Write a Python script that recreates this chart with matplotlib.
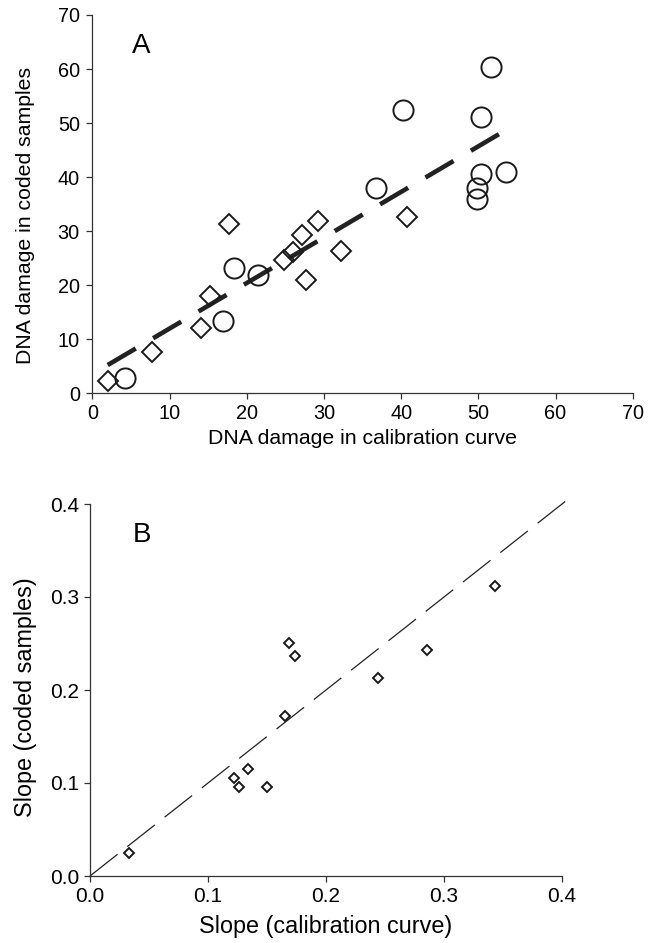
import numpy as np
import matplotlib
matplotlib.use('Agg')
import matplotlib.pyplot as plt
from matplotlib.ticker import FixedLocator, FormatStrFormatter

plt.rcParams['font.family'] = ['Liberation Sans', 'DejaVu Sans']

# ---------------- Panel A data ----------------
a_diamond_x = [2.0, 7.7, 14.1, 15.3, 17.7, 24.8, 26.0, 27.1, 27.7, 29.2, 32.2, 40.7]
a_diamond_y = [2.2, 7.6, 12.1, 18.0, 31.4, 24.7, 26.2, 29.3, 20.9, 31.8, 26.3, 32.7]
a_circle_x = [4.2, 16.9, 18.4, 21.4, 36.8, 40.3, 51.6, 50.3, 50.4, 49.8, 49.8, 53.6]
a_circle_y = [2.85, 13.4, 23.1, 21.9, 38.0, 52.4, 60.4, 51.2, 40.6, 38.0, 35.9, 41.0]
a_ticks = [0, 10, 20, 30, 40, 50, 60, 70]
a_xlabel = "DNA damage in calibration curve"
a_ylabel = "DNA damage in coded samples"

# ---------------- Panel B data ----------------
b_x = [0.033, 0.122, 0.126, 0.134, 0.150, 0.165, 0.1685, 0.1735, 0.244, 0.286, 0.343]
b_y = [0.025, 0.105, 0.096, 0.115, 0.096, 0.172, 0.251, 0.237, 0.213, 0.243, 0.312]
b_ticks = [0.0, 0.1, 0.2, 0.3, 0.4]
b_identity = [0.0, 0.407]
b_xlabel = "Slope (calibration curve)"
b_ylabel = "Slope (coded samples)"

W, H = 658, 943
fig = plt.figure(figsize=(W / 100, H / 100), dpi=100)
fig.patch.set_facecolor('white')

spine_col = '#333333'
ink = '#1a1a1a'


def px_axes(left, right, top, bottom):
    return fig.add_axes([left / W, 1 - bottom / H, (right - left) / W, (bottom - top) / H])


def style(ax, tick_fs, pad_x, pad_y):
    for s in ['top', 'right']:
        ax.spines[s].set_visible(False)
    for s in ['left', 'bottom']:
        ax.spines[s].set_color(spine_col)
        ax.spines[s].set_linewidth(0.9)
    ax.tick_params(axis='both', direction='out', length=4, width=0.9,
                   color=spine_col, labelsize=tick_fs, labelcolor='black')
    ax.tick_params(axis='x', pad=pad_x)
    ax.tick_params(axis='y', pad=pad_y)


# ---------------- Panel A ----------------
axA = px_axes(92.3, 632.7, 15, 393.3)
all_x = np.array(a_diamond_x + a_circle_x)
all_y = np.array(a_diamond_y + a_circle_y)
slope, intercept = np.polyfit(all_x, all_y, 1)
fx = np.array([all_x.min(), all_x.max()])
axA.plot(fx, slope * fx + intercept, color='#222222', lw=3.3,
         dashes=(7.1, 4.4), solid_capstyle='butt', dash_capstyle='butt', zorder=2)
axA.plot(a_diamond_x, a_diamond_y, linestyle='none', marker='D', ms=10.2,
         mfc='none', mec=ink, mew=1.4, zorder=3, clip_on=False)
axA.plot(a_circle_x, a_circle_y, linestyle='none', marker='o', ms=14.5,
         mfc='none', mec=ink, mew=1.4, zorder=3, clip_on=False)
axA.set_xlim(0, 70)
axA.set_ylim(0, 70)
axA.xaxis.set_major_locator(FixedLocator(a_ticks))
axA.yaxis.set_major_locator(FixedLocator(a_ticks))
style(axA, 14.3, 4, 5)
axA.set_xlabel(a_xlabel, fontsize=15.3)
axA.set_ylabel(a_ylabel, fontsize=15.3, va='center')
axA.xaxis.set_label_coords(0.5, -0.095)
axA.yaxis.set_label_coords(-0.1245, 0.471)
axA.text(0.0735, 0.918, 'A', transform=axA.transAxes, fontsize=20,
         ha='left', va='center')

# ---------------- Panel B ----------------
axB = px_axes(90, 562, 504, 876)
axB.plot(b_identity, b_identity, color='#222222', lw=0.9,
         dashes=(28, 10), dash_capstyle='butt', zorder=2, clip_on=False)
axB.plot(b_x, b_y, linestyle='none', marker='D', ms=5.1,
         mfc='white', mec=ink, mew=1.4, zorder=3, clip_on=False)
axB.set_xlim(0, 0.4)
axB.set_ylim(0, 0.4)
axB.xaxis.set_major_locator(FixedLocator(b_ticks))
axB.yaxis.set_major_locator(FixedLocator(b_ticks))
axB.xaxis.set_major_formatter(FormatStrFormatter('%.1f'))
axB.yaxis.set_major_formatter(FormatStrFormatter('%.1f'))
style(axB, 15, 4, 4)
axB.set_xlabel(b_xlabel, fontsize=16.8)
axB.set_ylabel(b_ylabel, fontsize=16.8, va='center')
axB.xaxis.set_label_coords(0.5, -0.105)
axB.yaxis.set_label_coords(-0.1377, 0.481)
axB.text(0.091, 0.917, 'B', transform=axB.transAxes, fontsize=20,
         ha='left', va='center')

fig.savefig('out.png', dpi=100, facecolor='white')
